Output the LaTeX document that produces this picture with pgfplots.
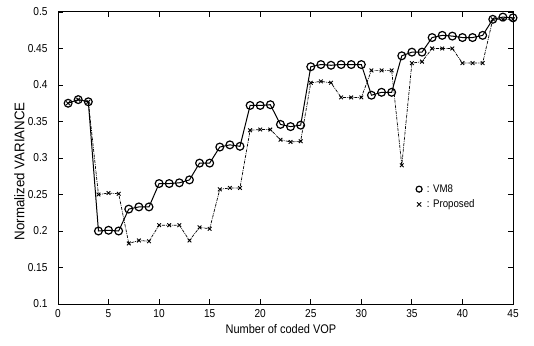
\documentclass[border=0pt]{standalone}
\usepackage{pgfplots}
\pgfplotsset{compat=1.18}
\usepackage{fontspec}
\setmainfont{Liberation Sans}[FakeStretch=0.88]
\newfontfamily\ylabfont{Liberation Sans}[FakeStretch=0.95]
\begin{document}
\begin{tikzpicture}[x=1pt,y=1pt]
\path (0,0) rectangle (534,345);
\begin{axis}[
  at={(58pt,41pt)}, anchor=south west,
  scale only axis, width=455pt, height=292pt,
  xmin=0, xmax=45, ymin=0.1, ymax=0.5,
  xtick={0,5,...,45},
  ytick={0.1,0.15,...,0.5},
  yticklabels={0.1,0.15,0.2,0.25,0.3,0.35,0.4,0.45,0.5},
  tick align=inside, tick pos=both,
  major tick length=5pt,
  axis line style={line width=1pt},
  tick style={line width=0.8pt, black},
  /pgf/number format/assume math mode=true,
  tick label style={font=\fontsize{11.5}{13}\selectfont},
  xticklabel style={yshift=-2pt},
  yticklabel style={xshift=-7pt},
  xlabel={Number of coded VOP},
  ylabel={Normalized VARIANCE},
  xlabel style={font=\fontsize{12.5}{14}\selectfont, at={(axis description cs:0.49,0)}, anchor=north, yshift=-17pt},
  ylabel style={font=\ylabfont\fontsize{14}{16}\selectfont, at={(axis description cs:0,0.455)}, anchor=south, yshift=30pt},
  legend style={at={(axis cs:35.3,0.268)}, anchor=north west, draw=none, fill=none,
    font=\fontsize{11}{13}\selectfont, row sep=2pt, inner sep=1pt},
  legend cell align=left,
]
\addplot[black, line width=1pt, mark=o, mark size=3.9pt, mark options={solid, line width=1.2pt},
  legend image post style={only marks, mark size=3pt, line width=0.9pt}]
coordinates {
(1,0.375)(2,0.380)(3,0.377)(4,0.200)(5,0.201)(6,0.200)(7,0.230)(8,0.233)(9,0.233)
(10,0.265)(11,0.265)(12,0.266)(13,0.270)(14,0.293)(15,0.293)(16,0.315)(17,0.318)(18,0.316)
(19,0.372)(20,0.372)(21,0.373)(22,0.346)(23,0.343)(24,0.345)(25,0.425)(26,0.428)(27,0.427)
(28,0.428)(29,0.428)(30,0.428)(31,0.386)(32,0.390)(33,0.390)(34,0.440)(35,0.445)(36,0.445)
(37,0.465)(38,0.468)(39,0.467)(40,0.465)(41,0.465)(42,0.468)(43,0.490)(44,0.493)(45,0.492)
};
\addlegendentry{\ : VM8}
\addplot[black, line width=0.7pt, densely dashdotted, mark=x, mark size=2.6pt, mark options={solid, line width=0.9pt},
  legend image post style={only marks, mark size=3pt}]
coordinates {
(1,0.375)(2,0.380)(3,0.377)(4,0.250)(5,0.252)(6,0.251)(7,0.183)(8,0.187)(9,0.186)
(10,0.208)(11,0.208)(12,0.208)(13,0.187)(14,0.205)(15,0.203)(16,0.257)(17,0.259)(18,0.259)
(19,0.338)(20,0.339)(21,0.339)(22,0.325)(23,0.322)(24,0.323)(25,0.403)(26,0.405)(27,0.403)
(28,0.383)(29,0.383)(30,0.383)(31,0.420)(32,0.420)(33,0.420)(34,0.290)(35,0.430)(36,0.432)
(37,0.450)(38,0.450)(39,0.450)(40,0.430)(41,0.430)(42,0.430)(43,0.490)(44,0.490)(45,0.490)
};
\addlegendentry{\ : Proposed}
\end{axis}
\end{tikzpicture}
\end{document}
